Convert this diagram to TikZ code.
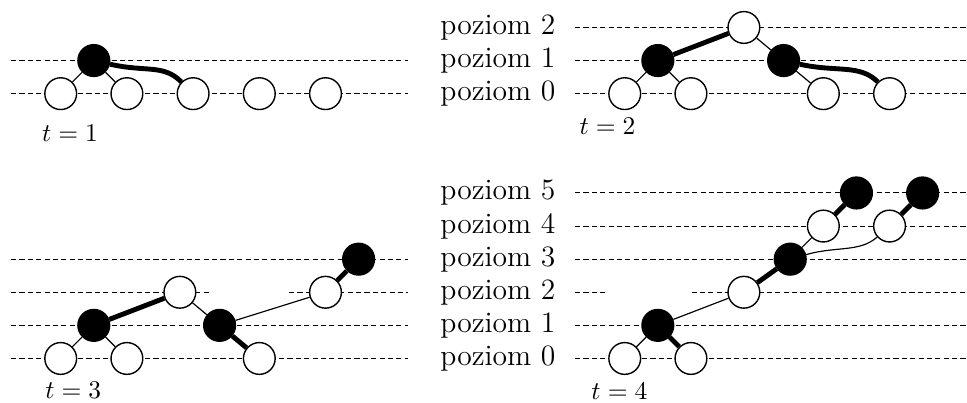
\documentclass[tikz,border=0pt,12pt]{standalone}
\usetikzlibrary{positioning}

\begin{document}
\begin{tikzpicture}[
        wn/.style={circle, draw, fill=white, semithick, minimum size=0.48cm, inner sep=0pt},
        bn/.style={wn, fill=black},
        lvl/.style={dash pattern=on 2.2pt off 1.4pt, line width=0.4pt},
        slim/.style={line width=0.5pt},
        fat/.style={line width=2.1pt},
        lab/.style={anchor=east, font=\fontsize{12.7}{15}\selectfont},
        tlab/.style={font=\fontsize{11}{13}\selectfont}
    ]
    \useasboundingbox (-0.917,-0.672) rectangle (13.69,5.415);

    % t = 1
    \begin{scope}[yshift=4cm]
        \foreach \y in {0,0.5}
            \draw[lvl] (-0.75,\y) -- (5.25,\y);
        \foreach \x [count=\i] in {0,...,4}
            \node[wn] (a\i) at (\x,0) {};
        \node[bn] (ab) at (0.5,0.5) {};
        \draw[slim] (ab) -- (a1);
        \draw[slim] (ab) -- (a2);
        \draw[fat] (ab) .. controls +(0.8,-0.18) and +(-0.45,0.45) .. (a3);
        \node[tlab] (ta) at (0.14,-0.6) {$t = 1$};
    \end{scope}

    % t = 2
    \begin{scope}[shift={(8.52,4)}]
        \foreach \k in {0,1,2} {
            \draw[lvl] (-0.75,\k*0.5) -- (5.25,\k*0.5);
            \node[lab] (pb\k) at (-0.9,\k*0.5) {poziom \k};
        }
        \node[wn] (b1) at (0,0) {};
        \node[wn] (b2) at (1,0) {};
        \node[wn] (b3) at (3,0) {};
        \node[wn] (b4) at (4,0) {};
        \node[bn] (bl) at (0.5,0.5) {};
        \node[bn] (br) at (2.4,0.5) {};
        \node[wn] (bt) at (1.8,1) {};
        \draw[slim] (bl) -- (b1);
        \draw[slim] (bl) -- (b2);
        \draw[fat] (bl) -- (bt);
        \draw[slim] (bt) -- (br);
        \draw[slim] (br) -- (b3);
        \draw[fat] (br) .. controls +(0.8,-0.18) and +(-0.45,0.45) .. (b4);
        \node[tlab] (tb) at (-0.26,-0.5) {$t = 2$};
    \end{scope}

    % t = 3
    \begin{scope}
        \foreach \y in {0,0.5,1.5}
            \draw[lvl] (-0.75,\y) -- (5.25,\y);
        \draw[lvl] (-0.75,1) -- (2.26,1);
        \draw[lvl] (3.45,1) -- (5.25,1);
        \node[wn] (c1) at (0,0) {};
        \node[wn] (c2) at (1,0) {};
        \node[wn] (c3) at (3,0) {};
        \node[bn] (cl) at (0.5,0.5) {};
        \node[bn] (cr) at (2.4,0.5) {};
        \node[wn] (cm) at (1.8,1) {};
        \node[wn] (cn) at (4,1) {};
        \node[bn] (ct) at (4.5,1.5) {};
        \draw[slim] (cl) -- (c1);
        \draw[slim] (cl) -- (c2);
        \draw[fat] (cl) -- (cm);
        \draw[slim] (cm) -- (cr);
        \draw[fat] (cr) -- (c3);
        \draw[slim] (cr) -- (cn);
        \draw[fat] (cn) -- (ct);
        \node[tlab] (tc) at (0.19,-0.48) {$t = 3$};
    \end{scope}

    % t = 4
    \begin{scope}[xshift=8.52cm]
        \foreach \k in {0,...,5}
            \node[lab] (pd\k) at (-0.9,\k*0.5) {poziom \k};
        \foreach \y in {0,0.5,1.5,2,2.5}
            \draw[lvl] (-0.75,\y) -- (5.25,\y);
        \draw[lvl] (-0.75,1) -- (-0.27,1);
        \draw[lvl] (1.01,1) -- (5.25,1);
        \node[wn] (d1) at (0,0) {};
        \node[wn] (d2) at (1,0) {};
        \node[bn] (dl) at (0.5,0.5) {};
        \node[wn] (dm) at (1.8,1) {};
        \node[bn] (dn) at (2.5,1.5) {};
        \node[wn] (dp) at (3,2) {};
        \node[wn] (dq) at (4,2) {};
        \node[bn] (dr) at (3.5,2.5) {};
        \node[bn] (ds) at (4.5,2.5) {};
        \draw[slim] (dl) -- (d1);
        \draw[fat] (dl) -- (d2);
        \draw[slim] (dl) -- (dm);
        \draw[fat] (dm) -- (dn);
        \draw[slim] (dn) -- (dp);
        \draw[slim] (dn) .. controls +(0.7,0.2) and +(-0.45,-0.4) .. (dq);
        \draw[fat] (dp) -- (dr);
        \draw[fat] (dq) -- (ds);
        \node[tlab] (td) at (-0.08,-0.49) {$t = 4$};
    \end{scope}
\end{tikzpicture}
\end{document}
